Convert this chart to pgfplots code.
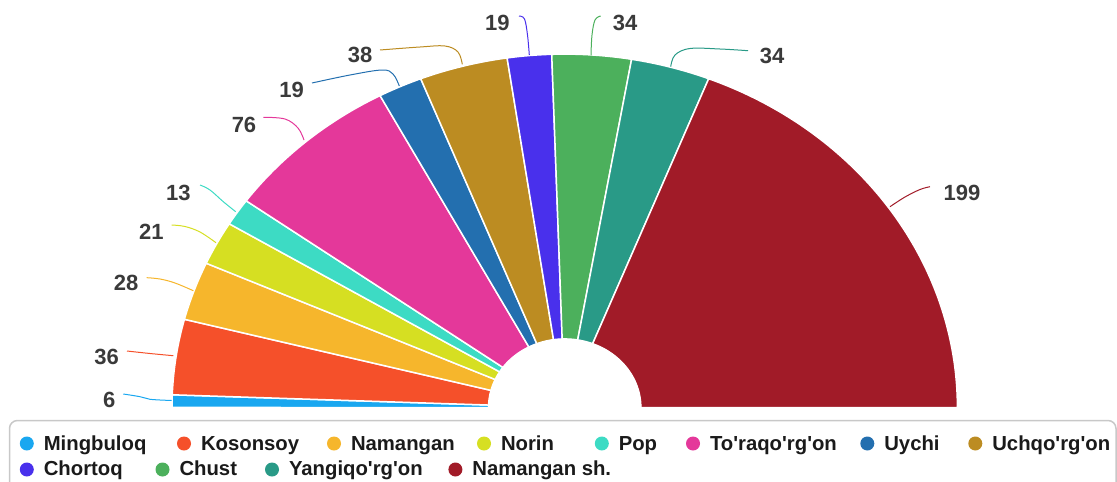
\documentclass[border=0pt]{standalone}
\usepackage{pgfplots}
\pgfplotsset{compat=1.18}
\usepackage{fontspec}
\newfontfamily\cf{Liberation Sans}
\definecolor{c1}{HTML}{19A7F0}
\definecolor{c2}{HTML}{F5502A}
\definecolor{c3}{HTML}{F6B62C}
\definecolor{c4}{HTML}{D6DF22}
\definecolor{c5}{HTML}{3DDBC4}
\definecolor{c6}{HTML}{E4389A}
\definecolor{c7}{HTML}{236FAF}
\definecolor{c8}{HTML}{BC8C22}
\definecolor{c9}{HTML}{4930EC}
\definecolor{c10}{HTML}{4CB05C}
\definecolor{c11}{HTML}{299A87}
\definecolor{c12}{HTML}{A11B28}
\definecolor{lab}{HTML}{3A3A3A}
\definecolor{legtxt}{HTML}{1A1A1A}
\definecolor{legbox}{HTML}{C8C8C8}

% centre of the half ring (image px), radii
\def\cx{564.7}\def\cy{407.5}\def\Rx{392.7}\def\Ry{353.4}
\def\total{523}
\def\cum{0}
\newcommand\slice[2]{% value, colour
  \pgfmathsetmacro\aS{180-(\cum/\total)*180}%
  \pgfmathsetmacro\newcum{\cum+#1}%
  \global\let\cum\newcum
  \pgfmathsetmacro\aE{180-(\cum/\total)*180}%
  \edef\doslice{\noexpand\addplot[fill=#2, draw=white, line width=1.5pt, line join=round, domain=\aE:\aS, samples=90, variable=\noexpand\t]
    ({\cx+\Rx*cos(\noexpand\t)},{\cy-\Ry*sin(\noexpand\t)}) -- (\cx,\cy) -- cycle;}%
  \doslice
}
\newcommand\val[3]{\node[font=\cf\bfseries\fontsize{22}{24}\selectfont, text=lab, inner sep=0pt, anchor=center] at (#1,#2) {#3};}
\newcommand\leg[5]{% circle x, circle y, baseline y, colour, text
  \fill[#4] (#1,#2) circle[radius=7pt];
  \node[font=\cf\bfseries\fontsize{20.3}{22}\selectfont, text=legtxt, inner sep=0pt, anchor=base west] at (#1+16.8,#3) {#5};
}

\begin{document}
\begin{tikzpicture}
\useasboundingbox (0,0) rectangle (1117pt,482pt);
\begin{axis}[x=1pt, y=1pt, y dir=reverse, xmin=0, xmax=1117, ymin=0, ymax=482,
  hide axis, anchor=origin, at={(0pt,482pt)}, clip=true]

% slices: values
\slice{6}{c1}
\slice{36}{c2}
\slice{28}{c3}
\slice{21}{c4}
\slice{13}{c5}
\slice{76}{c6}
\slice{19}{c7}
\slice{38}{c8}
\slice{19}{c9}
\slice{34}{c10}
\slice{34}{c11}
\slice{199}{c12}

% inner hole
\addplot[fill=white, draw=white, line width=1pt, domain=0:180, samples=90, variable=\t]
  ({\cx+76.4*cos(\t)},{\cy-68.8*sin(\t)}) -- cycle;

% leader lines
\addplot[c1, line width=1pt, smooth, tension=0.6] coordinates {(171.7,400.5) (150,399.3) (140,396.7) (123.3,394)};
\addplot[c2, line width=1pt, smooth, tension=0.6] coordinates {(173.3,355.7) (150,353.5) (127,351)};
\addplot[c3, line width=1pt, smooth, tension=0.6] coordinates {(193.3,290.7) (175,283) (160,279) (146.7,277.7)};
\addplot[c4, line width=1pt, smooth, tension=0.6] coordinates {(216,242.7) (200,232) (185,226.5) (171.7,225)};
\addplot[c5, line width=1pt, smooth, tension=0.6] coordinates {(235.7,211.7) (223.3,201.7) (210,190) (200,185)};
\addplot[c6, line width=1pt, smooth, tension=0.6] coordinates {(304,140) (298,128) (285,119) (263.3,117.3)};
\addplot[c7, line width=1pt, smooth, tension=0.6] coordinates {(399.3,86) (393,74) (382,70) (350,75) (312,83)};
\addplot[c8, line width=1pt, smooth, tension=0.6] coordinates {(462.3,64.3) (458,52) (445,46) (420,47) (380,50)};
\addplot[c9, line width=1pt, smooth, tension=0.6] coordinates {(529.3,55) (527.5,35) (524.5,19) (519,16)};
\addplot[c10, line width=1pt, smooth, tension=0.6] coordinates {(591,55) (592,35) (595,20) (600.7,16)};
\addplot[c11, line width=1pt, smooth, tension=0.6] coordinates {(670.7,66.7) (675,55) (690,48.5) (720,49) (748,50.7)};
\addplot[c12, line width=1pt, smooth, tension=0.6] coordinates {(890,206.7) (905,197) (920,189.5) (930,186.7)};

% value labels
\val{109.2}{400}{6}
\val{106.7}{356.7}{36}
\val{126.2}{283.3}{28}
\val{151.3}{231.7}{21}
\val{178.3}{192.8}{13}
\val{244}{125}{76}
\val{291.7}{90}{19}
\val{360}{55}{38}
\val{497.3}{22.8}{19}
\val{625}{22.8}{34}
\val{772}{55.7}{34}
\val{962}{193.3}{199}

% legend box (bottom cut by the picture edge)
\draw[legbox, line width=1.5pt, rounded corners=8pt] (9.5,490) -- (9.5,420.5) -- (1116,420.5) -- (1116,490);

\leg{26.8}{443.5}{450}{c1}{Mingbuloq}
\leg{184}{443.5}{450}{c2}{Kosonsoy}
\leg{334}{443.5}{450}{c3}{Namangan}
\leg{484}{443.5}{450}{c4}{Norin}
\leg{601.8}{443.5}{450}{c5}{Pop}
\leg{693}{443.5}{450}{c6}{To'raqo'rg'on}
\leg{867.3}{443.5}{450}{c7}{Uychi}
\leg{975.3}{443.5}{450}{c8}{Uchqo'rg'on}
\leg{26.8}{469.5}{475.5}{c9}{Chortoq}
\leg{162.5}{469.5}{475.5}{c10}{Chust}
\leg{272}{469.5}{475.5}{c11}{Yangiqo'rg'on}
\leg{455.4}{469.5}{475.5}{c12}{Namangan sh.}
\end{axis}
\end{tikzpicture}
\end{document}
